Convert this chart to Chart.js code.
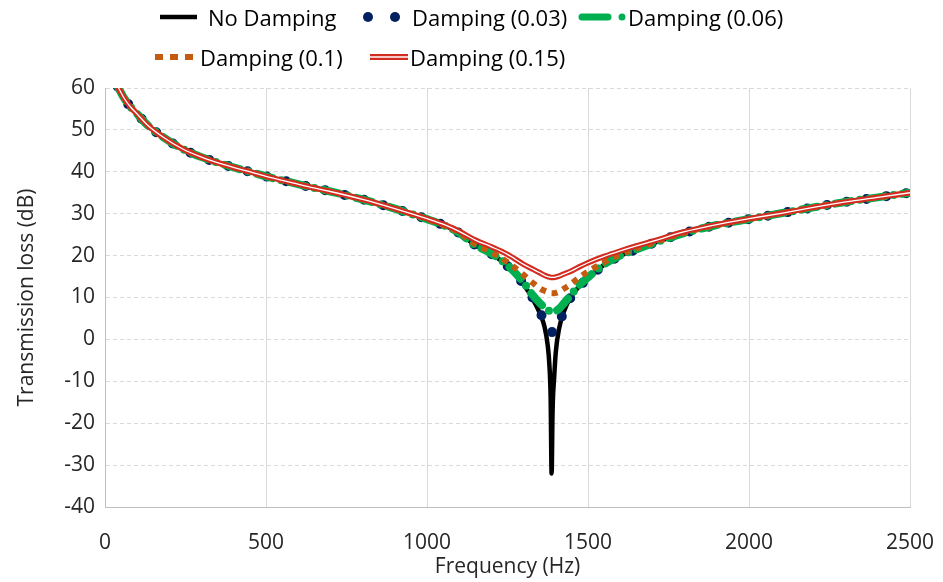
<!DOCTYPE html>
<html>
<head>
<meta charset="utf-8">
<script src="https://cdn.jsdelivr.net/npm/chart.js@4.4.0/dist/chart.umd.min.js"></script>
<style>
  body { margin: 0; background: #fff; }
  #wrap { position: relative; width: 943px; height: 582px; font-family: 'Open Sans', sans-serif; }
  #chart { position: absolute; left: 0; top: 0; }
  #swatches { position: absolute; left: 0; top: 0; }
  .lg { position: absolute; font-size: 22px; line-height: 30px; color: #000; white-space: nowrap; }
</style>
</head>
<body>
<div id="wrap">
  <canvas id="chart" width="943" height="582"></canvas>
  <svg id="swatches" width="943" height="80">
    <line x1="160" y1="17" x2="197" y2="17" stroke="#000" stroke-width="4.5"/>
    <circle cx="368" cy="17" r="5" fill="#002060"/>
    <circle cx="395" cy="17" r="5" fill="#002060"/>
    <line x1="582" y1="17" x2="608" y2="17" stroke="#00B050" stroke-width="7" stroke-linecap="round"/>
    <circle cx="622" cy="17" r="3.5" fill="#00B050"/>
    <line x1="155" y1="57" x2="200" y2="57" stroke="#C55A11" stroke-width="6" stroke-dasharray="8 7"/>
    <line x1="370" y1="57" x2="408" y2="57" stroke="#D22B1F" stroke-width="6"/>
    <line x1="370" y1="57" x2="408" y2="57" stroke="#fff" stroke-width="1.5"/>
  </svg>
  <span class="lg" style="left:208px;top:2px">No Damping</span>
  <span class="lg" style="left:412px;top:2px">Damping (0.03)</span>
  <span class="lg" style="left:628px;top:2px">Damping (0.06)</span>
  <span class="lg" style="left:200px;top:42px">Damping (0.1)</span>
  <span class="lg" style="left:410px;top:42px">Damping (0.15)</span>
</div>
<script>
// frequency samples (Hz), denser around the resonance
const freqHz = [40, 60, 80, 100, 130, 180, 240, 300, 370, 440, 500, 570, 640, 700, 800, 900, 1000, 1050, 1100, 1150,
  1200, 1250, 1300, 1330, 1350, 1365, 1375, 1380, 1384, 1387, 1390, 1395, 1400, 1410, 1425, 1450, 1475, 1500, 1550, 1600,
  1650, 1700, 1800, 1900, 2000, 2100, 2200, 2300, 2400, 2500];

// transmission loss (dB)
const noDamping = [60.3, 57.5, 55.4, 53.8, 51.3, 48.3, 45.5, 43.5, 41.7, 40.2, 38.9, 37.6, 36.3, 35.3, 33.4, 31.2, 28.7, 27.3, 25.4, 22.5,
  20.4, 17.5, 13.1, 9.4, 6.3, 3.0, -1.5, -6, -14, -32, -17, -9, -3, 2.5, 6.6, 10.5, 12.8, 14.6, 17.8, 19.9,
  21.5, 22.9, 25.4, 27.3, 28.7, 30.1, 31.5, 32.8, 33.9, 35.0];
const damping003 = [60.3, 57.5, 55.4, 53.8, 51.3, 48.3, 45.5, 43.5, 41.7, 40.2, 38.9, 37.6, 36.3, 35.3, 33.4, 31.2, 28.7, 27.3, 25.4, 22.5,
  20.4, 17.5, 13.2, 9.7, 6.8, 4.0, 2.8, 2.3, 2.0, 1.8, 1.7, 1.7, 2.0, 3.6, 6.8, 10.5, 12.8, 14.6, 17.8, 19.9,
  21.5, 22.9, 25.4, 27.3, 28.7, 30.1, 31.5, 32.8, 33.9, 35.0];
const damping006 = [60.3, 57.5, 55.4, 53.8, 51.3, 48.3, 45.5, 43.5, 41.7, 40.2, 38.9, 37.6, 36.3, 35.3, 33.4, 31.2, 28.7, 27.3, 25.4, 22.5,
  20.5, 17.7, 13.6, 10.4, 8.7, 7.6, 7.0, 6.8, 6.6, 6.5, 6.5, 6.6, 6.8, 7.3, 8.6, 10.9, 13.1, 14.8, 17.9, 20.0,
  21.5, 22.9, 25.4, 27.3, 28.7, 30.1, 31.5, 32.8, 33.9, 35.0];
const damping01 = [60.3, 57.5, 55.4, 53.8, 51.3, 48.3, 45.5, 43.5, 41.7, 40.2, 38.9, 37.6, 36.3, 35.3, 33.4, 31.2, 28.7, 27.3, 25.5, 22.7,
  20.8, 18.4, 15.4, 13.4, 12.2, 11.6, 11.3, 11.2, 11.1, 11.0, 11.0, 11.0, 11.1, 11.4, 12.1, 13.4, 14.9, 16.2, 18.4, 20.3,
  21.7, 23.0, 25.5, 27.3, 28.7, 30.1, 31.5, 32.8, 33.9, 35.0];
const damping015 = [60.3, 57.5, 55.4, 53.8, 51.3, 48.3, 45.5, 43.5, 41.7, 40.2, 38.9, 37.6, 36.3, 35.3, 33.4, 31.2, 28.8, 27.5, 25.8, 23.7,
  22.1, 20.3, 17.9, 16.7, 15.9, 15.3, 15.0, 14.9, 14.8, 14.8, 14.8, 14.8, 14.9, 15.1, 15.6, 16.4, 17.4, 18.3, 19.8, 21.1,
  22.3, 23.4, 25.7, 27.4, 28.8, 30.1, 31.5, 32.8, 33.9, 35.0];

const toPoints = vals => freqHz.map((f, i) => ({ x: f, y: vals[i] }));

const tickFont = { family: "'Open Sans', sans-serif", size: 21 };
const titleFont = { family: "'Open Sans', sans-serif", size: 21 };

const ctx = document.getElementById('chart').getContext('2d');
new Chart(ctx, {
    type: 'line',
    data: {
        datasets: [
            { label: 'No Damping', data: toPoints(noDamping), borderColor: '#000', borderWidth: 4.5, order: 5 },
            { label: 'Damping (0.03)', data: toPoints(damping003), borderColor: '#002060', borderWidth: 10,
              borderDash: [0, 20], borderCapStyle: 'round', order: 4 },
            { label: 'Damping (0.06)', data: toPoints(damping006), borderColor: '#00B050', borderWidth: 8,
              borderDash: [16, 9, 0, 9], borderCapStyle: 'round', order: 3 },
            { label: 'Damping (0.1)', data: toPoints(damping01), borderColor: '#C55A11', borderWidth: 6,
              borderDash: [6, 6], order: 2 },
            { label: 'Damping (0.15)', data: toPoints(damping015), borderColor: '#D22B1F', borderWidth: 5.5, order: 1 },
            // white centre of the double line
            { label: '', data: toPoints(damping015), borderColor: '#fff', borderWidth: 1.3, order: 0 }
        ]
    },
    options: {
        responsive: false,
        animation: false,
        devicePixelRatio: 1,
        layout: { padding: { top: 88, right: 33, bottom: 0, left: 0 } },
        elements: {
            point: { radius: 0 },
            line: { cubicInterpolationMode: 'monotone', fill: false }
        },
        plugins: { legend: { display: false }, tooltip: { enabled: false } },
        scales: {
            x: {
                type: 'linear',
                min: 0,
                max: 2500,
                ticks: { stepSize: 500, font: tickFont, color: '#262626', padding: 23, maxRotation: 0,
                         callback: value => String(value) },
                grid: { color: '#d9d9d9', drawTicks: false },
                border: { color: '#bfbfbf' },
                title: { display: true, text: 'Frequency (Hz)', font: titleFont, color: '#262626', padding: { top: 0, bottom: 2 } },
                afterFit: scale => { scale.height = 75; scale.paddingLeft = 0; scale.paddingRight = 0; }
            },
            y: {
                min: -40,
                max: 60,
                ticks: { stepSize: 10, font: tickFont, color: '#262626', padding: 10 },
                grid: { color: '#d9d9d9', drawTicks: false },
                border: { color: '#bfbfbf', dash: [4, 3] },
                title: { display: true, text: 'Transmission loss (dB)', font: titleFont, color: '#262626', padding: { top: 14, bottom: 0 } },
                afterFit: scale => { scale.width = 105; }
            }
        }
    }
});
</script>
</body>
</html>
